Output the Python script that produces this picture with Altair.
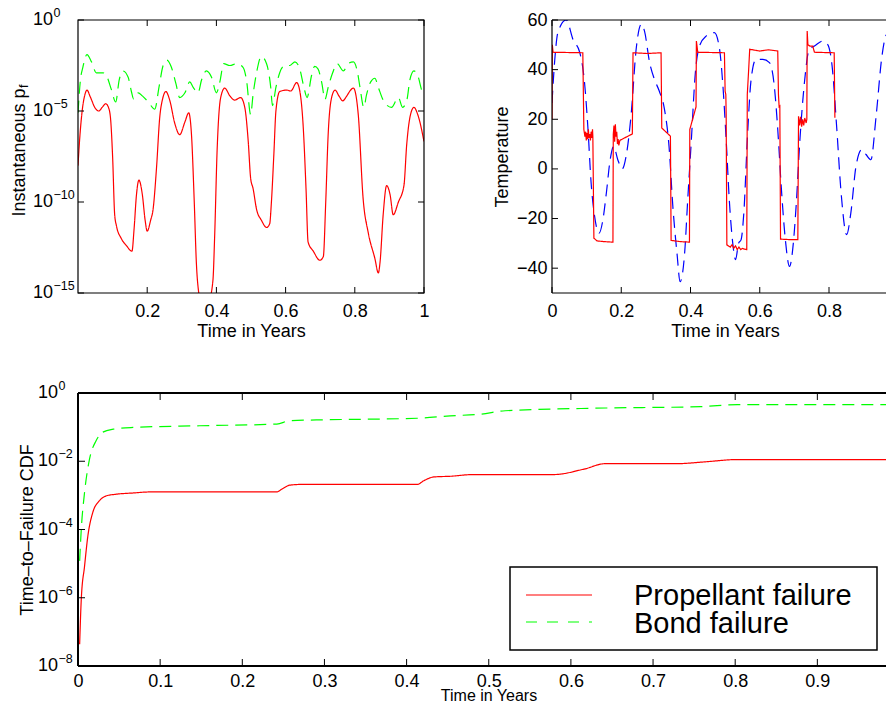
import altair as alt
import pandas as pd

# ---------------- data ----------------
# Top-left: instantaneous failure probability (log10 of value)
pf_prop_t = [0.000, 0.005, 0.012, 0.020, 0.026, 0.035, 0.050, 0.060, 0.070, 0.080, 0.088, 0.094,
             0.100, 0.106, 0.111, 0.125, 0.140, 0.156, 0.162, 0.169, 0.176, 0.186, 0.194, 0.200,
             0.210, 0.217, 0.227, 0.236, 0.245, 0.254, 0.265, 0.280, 0.294, 0.309, 0.320, 0.328,
             0.336, 0.342, 0.349, 0.355, 0.380, 0.390, 0.395, 0.402, 0.412, 0.424, 0.439, 0.453,
             0.470, 0.482, 0.492, 0.499, 0.506, 0.516, 0.530, 0.545, 0.554, 0.559, 0.566, 0.572,
             0.583, 0.603, 0.615, 0.632, 0.641, 0.651, 0.659, 0.665, 0.680, 0.699, 0.709, 0.716,
             0.723, 0.733, 0.743, 0.755, 0.765, 0.776, 0.786, 0.796, 0.810, 0.824, 0.839, 0.858,
             0.868, 0.873, 0.882, 0.892, 0.902, 0.911, 0.926, 0.942, 0.950, 0.961, 0.971, 0.982, 1.000]
pf_prop_log = [-8.0, -6.5, -5.0, -4.1, -3.85, -4.2, -4.85, -5.0, -4.8, -4.6, -4.8, -5.4,
               -7.5, -10.7, -11.3, -12.0, -12.4, -12.7, -11.5, -9.6, -8.8, -9.6, -11.0, -11.6,
               -11.0, -10.4, -8.1, -5.4, -4.3, -3.93, -4.4, -5.7, -6.3, -5.6, -5.1, -6.3,
               -10.0, -13.3, -15.0, -15.5, -15.3, -14.3, -11.85, -7.2, -4.3, -3.74, -4.17, -4.4,
               -4.26, -4.8, -6.67, -8.7, -9.26, -10.4, -11.0, -11.4, -11.2, -10.0, -7.4, -5.0,
               -3.93, -3.85, -3.9, -3.44, -3.9, -5.9, -9.26, -12.2, -12.7, -13.2, -13.0, -10.0,
               -6.3, -4.26, -3.85, -4.2, -4.44, -4.2, -3.9, -3.74, -5.2, -9.8, -11.7, -13.1,
               -13.9, -13.3, -10.7, -9.1, -9.6, -10.7, -10.0, -9.1, -6.85, -5.2, -4.8, -5.2, -6.67]
pf_bond_t = [0.000, 0.007, 0.014, 0.026, 0.039, 0.053, 0.072, 0.082, 0.096, 0.109, 0.119, 0.130,
             0.145, 0.154, 0.161, 0.174, 0.186, 0.203, 0.222, 0.234, 0.246, 0.257, 0.270, 0.283,
             0.294, 0.309, 0.323, 0.333, 0.347, 0.357, 0.371, 0.386, 0.400, 0.410, 0.421, 0.439,
             0.458, 0.477, 0.487, 0.499, 0.506, 0.516, 0.530, 0.545, 0.557, 0.562, 0.572, 0.583,
             0.598, 0.612, 0.627, 0.641, 0.653, 0.662, 0.675, 0.684, 0.694, 0.704, 0.714, 0.723,
             0.736, 0.749, 0.767, 0.781, 0.796, 0.807, 0.815, 0.826, 0.834, 0.846, 0.858, 0.868,
             0.882, 0.906, 0.926, 0.938, 0.951, 0.959, 0.971, 0.982, 0.994, 1.000]
pf_bond_log = [-5.1, -3.3, -2.6, -1.9, -2.3, -2.9, -2.9, -3.05, -3.8, -4.5, -3.3, -2.8,
               -3.15, -3.9, -4.35, -4.0, -4.17, -4.5, -4.9, -3.7, -2.5, -2.2, -2.6, -3.5,
               -4.26, -4.0, -3.4, -3.7, -4.0, -3.3, -2.8, -3.15, -4.0, -3.4, -2.4, -2.5,
               -2.4, -2.6, -3.3, -5.2, -4.1, -2.9, -2.0, -2.4, -3.7, -4.7, -3.7, -2.9,
               -2.5, -2.5, -2.3, -2.7, -3.7, -4.26, -3.05, -2.55, -2.7, -3.4, -4.35, -3.7,
               -2.9, -2.4, -2.8, -2.4, -2.3, -2.8, -3.7, -4.8, -4.1, -3.4, -3.2, -3.7,
               -4.4, -4.8, -4.26, -4.8, -4.35, -3.3, -2.8, -3.05, -3.9, -4.17]

# Top-right: temperature
temp_meas_t = [0.000, 0.001, 0.003, 0.089, 0.092, 0.095, 0.097, 0.099, 0.101, 0.103, 0.105, 0.107,
               0.109, 0.111, 0.113, 0.115, 0.117, 0.118, 0.121, 0.130, 0.150, 0.176, 0.177, 0.179,
               0.181, 0.183, 0.185, 0.187, 0.189, 0.191, 0.193, 0.196, 0.232, 0.234, 0.275, 0.315,
               0.317, 0.342, 0.344, 0.370, 0.397, 0.398, 0.416, 0.417, 0.421, 0.498, 0.500, 0.502,
               0.503, 0.505, 0.515, 0.520, 0.525, 0.530, 0.535, 0.540, 0.545, 0.550, 0.555, 0.5625,
               0.564, 0.568, 0.571, 0.600, 0.625, 0.652, 0.654, 0.656, 0.658, 0.660, 0.690, 0.710,
               0.712, 0.715, 0.718, 0.721, 0.724, 0.727, 0.730, 0.734, 0.736, 0.737, 0.739, 0.745,
               0.753, 0.758, 0.815, 0.817]
temp_meas = [20, 50, 47, 46.8, 15.9, 13, 15, 11.5, 14.5, 12, 16, 12.5,
             14, 11.5, 15, 12.5, 16, 13, -27.9, -29, -29.3, -29.5, 14, 17.5,
             11, 18, 13, 15, 10, 12, 9.5, 11.5, 14.1, 46.8, 46.5, 46.8,
             16.5, 13.2, -28.8, -29.3, -29.5, 15.9, 25, 51.5, 47, 46.8, 31.3, 30,
             22, -30.6, -31.5, -30.5, -32, -31, -32.5, -31.5, -32.5, -32, -32.3, -32.5,
             30, 40, 48.2, 47.5, 48, 47.5, 30, 25, 25.3, -28.3, -28.5, -28.5,
             21.2, 17.5, 21, 17, 20, 17.5, 20.5, 18.5, 20, 55.6, 50, 49.5,
             49.5, 47, 46.8, 20.6]
temp_fit_t = [0.000, 0.008, 0.017, 0.041, 0.061, 0.080, 0.094, 0.104, 0.113, 0.123, 0.136, 0.147,
              0.157, 0.168, 0.178, 0.190, 0.203, 0.214, 0.229, 0.243, 0.258, 0.267, 0.282, 0.296,
              0.310, 0.325, 0.338, 0.349, 0.361, 0.370, 0.383, 0.392, 0.402, 0.414, 0.426, 0.445,
              0.469, 0.484, 0.493, 0.503, 0.512, 0.522, 0.530, 0.539, 0.546, 0.554, 0.565, 0.575,
              0.589, 0.609, 0.628, 0.642, 0.652, 0.662, 0.674, 0.686, 0.697, 0.705, 0.716, 0.729,
              0.743, 0.758, 0.782, 0.796, 0.809, 0.822, 0.835, 0.851, 0.863, 0.878, 0.895, 0.907,
              0.921, 0.936, 0.953, 0.967, 0.983, 1.000]
temp_fit = [26.6, 44, 55, 60, 52, 47, 34.7, 15.9, -5.7, -19, -25.9, -20.5,
            -9.7, 3.7, 9.1, 3.7, 0, 5.1, 22.6, 48.2, 58.3, 55.6, 42.8, 36,
            31.3, 23.9, 9.1, -15.1, -34, -45.4, -34, -12.4, 10.5, 38.7, 49.5, 53.5,
            54.9, 48.2, 34.7, 11.8, -12.4, -29.9, -36.6, -29.9, -28.6, -17.8, 14.5, 36,
            44.1, 44.1, 42.8, 33.4, 15.9, -7, -28.6, -39.3, -29.9, -15.1, 11.8, 34.7,
            48.2, 49.5, 51.5, 50.2, 41.4, 17.2, -9.7, -26.5, -17.8, 1.1, 7.8, 5.8,
            3.7, 21.2, 45.5, 54.2, 49.5, 40]

# Bottom: time-to-failure CDF (log10 of value)
cdf_prop_t = [0.002, 0.004, 0.008, 0.012, 0.018, 0.026, 0.035, 0.045, 0.067, 0.087, 0.242, 0.248,
              0.258, 0.270, 0.413, 0.421, 0.433, 0.453, 0.481, 0.579, 0.616, 0.642, 0.730, 0.762,
              0.803, 1.000]
cdf_prop_log = [-7.36, -6.04, -5.07, -4.19, -3.5, -3.16, -3.01, -2.97, -2.93, -2.9, -2.9, -2.82,
                -2.7, -2.68, -2.68, -2.57, -2.46, -2.44, -2.39, -2.39, -2.23, -2.07, -2.07, -2.02,
                -1.95, -1.95]
cdf_bond_t = [0.002, 0.004, 0.008, 0.014, 0.022, 0.030, 0.043, 0.067, 0.148, 0.242, 0.258, 0.290,
              0.413, 0.453, 0.490, 0.520, 0.643, 0.758, 0.803, 1.000]
cdf_bond_log = [-4.92, -3.99, -2.91, -1.94, -1.4, -1.15, -1.06, -1.01, -0.96, -0.91, -0.81, -0.79,
                -0.74, -0.67, -0.62, -0.52, -0.44, -0.4, -0.34, -0.34]

series_all = ["Propellant failure", "Bond failure", "Measured", "Model"]

# axis ticks / labels
tl_xticks = [0.2, 0.4, 0.6, 0.8, 1.0]
tl_yticks = [1e0, 1e-5, 1e-10, 1e-15]
tl_yexp = ["0", "\u22125", "\u221210", "\u221215"]
tr_xticks = [0, 0.2, 0.4, 0.6, 0.8]
tr_yticks = [-40, -20, 0, 20, 40, 60]
b_xticks = [0, 0.1, 0.2, 0.3, 0.4, 0.5, 0.6, 0.7, 0.8, 0.9]
b_yticks = [1e0, 1e-2, 1e-4, 1e-6, 1e-8]
b_yexp = ["0", "\u22122", "\u22124", "\u22126", "\u22128"]

# ---------------- styling ----------------
FONT = "Liberation Sans"
RED, GREEN, BLUE = "#ff0000", "#00ff00", "#0000ff"
FS = 18
W1, H1 = 346, 273          # top-left panel
W2 = 340                   # top-right panel (right part cut off like the reference)
W3, H3 = 814, 273          # bottom panel (right part cut off)
PX_PER_UNIT_TOP = 346.25
PX_PER_UNIT_BOT = 821.5
ONE = pd.DataFrame({"k": [0]})

color_enc = alt.Color("s:N", scale=alt.Scale(domain=series_all, range=[RED, GREEN, RED, BLUE]),
                      legend=None)
dash_enc = alt.StrokeDash("s:N", scale=alt.Scale(domain=series_all,
                                                 range=[[1, 0], [12, 7], [1, 0], [12, 7]]),
                          legend=None)


def series_df(pairs):
    rows = []
    for name, ts, vs, logv in pairs:
        for i, (t, v) in enumerate(zip(ts, vs)):
            rows.append({"t": t, "v": 10 ** v if logv else v, "s": name, "i": i})
    return pd.DataFrame(rows)


def tick_layers(xvals, yvals, w, h, L, xs, ys, xax, yax, right_len):
    dx = pd.DataFrame({"v": xvals})
    dy = pd.DataFrame({"v": yvals})
    out = []
    for a, b in [(h, h - L), (0, L)]:
        out.append(alt.Chart(dx).mark_rule(color="black", strokeWidth=1).encode(
            x=alt.X("v:Q", scale=xs, axis=xax), y=alt.value(a), y2=alt.value(b)))
    segs = [(0, L)]
    if right_len > 0:
        segs.append((w - right_len, w))
    for a, b in segs:
        out.append(alt.Chart(dy).mark_rule(color="black", strokeWidth=1).encode(
            y=alt.Y("v:Q", scale=ys, axis=yax), x=alt.value(a), x2=alt.value(b)))
    return out


def hline(x0, x1, y, sw):
    return alt.Chart(ONE).mark_rule(color="black", strokeWidth=sw).encode(
        x=alt.value(x0), x2=alt.value(x1), y=alt.value(y), y2=alt.value(y))


def vline(x, y0, y1, sw):
    return alt.Chart(ONE).mark_rule(color="black", strokeWidth=sw).encode(
        x=alt.value(x), x2=alt.value(x), y=alt.value(y0), y2=alt.value(y1))


def log_labels(vals, exps, ys, yax, xr):
    df = pd.DataFrame({"v": vals, "e": exps})
    base = alt.Chart(df).mark_text(align="right", baseline="middle", fontSize=FS, font=FONT,
                                   color="black").encode(
        y=alt.Y("v:Q", scale=ys, axis=yax), x=alt.value(xr), text=alt.value("10"))
    ex = alt.Chart(df).mark_text(align="left", baseline="middle", fontSize=12.5, font=FONT,
                                 color="black", dy=-7).encode(
        y=alt.Y("v:Q", scale=ys, axis=yax), x=alt.value(xr + 0.5), text="e:N")
    return [base, ex]


def lines(df, xs, ys, xax, yax, interp):
    return alt.Chart(df).mark_line(clip=True, strokeWidth=1.2, interpolate=interp).encode(
        x=alt.X("t:Q", scale=xs, axis=xax), y=alt.Y("v:Q", scale=ys, axis=yax),
        color=color_enc, strokeDash=dash_enc, order="i:Q")


# ---------------- top-left ----------------
xs1 = alt.Scale(domain=[0, 1], nice=False, zero=False)
ys1 = alt.Scale(type="log", domain=[1e-15, 1], nice=False)
xax1 = alt.Axis(values=tl_xticks, format="~g", labelPadding=9, title="Time in Years",
                titleY=43, titleBaseline="alphabetic")
yax1 = alt.Axis(labels=False, title="Instantaneous p", titleX=-54, titleY=132,
                titleBaseline="alphabetic", titleAlign="center", titleAngle=270)
df1 = series_df([(series_all[0], pf_prop_t, pf_prop_log, True),
                 (series_all[1], pf_bond_t, pf_bond_log, True)])
tl_lines = lines(df1, xs1, ys1, xax1, yax1, "monotone")
tl_sub = alt.Chart(ONE).mark_text(align="left", baseline="alphabetic", angle=270, fontSize=12.5,
                                  font=FONT, color="black").encode(
    x=alt.value(-50), y=alt.value(68), text=alt.value("f"))
tl_frame = alt.Chart(ONE).mark_rect(fill="transparent", stroke="black", strokeWidth=1.2).encode(
    x=alt.value(0), x2=alt.value(W1), y=alt.value(0), y2=alt.value(H1))
tl = alt.layer(tl_lines, *tick_layers(tl_xticks, tl_yticks, W1, H1, 6, xs1, ys1, xax1, yax1, 6),
               tl_frame, *log_labels(tl_yticks, tl_yexp, ys1, yax1, -25), tl_sub
               ).properties(width=W1, height=H1)

# ---------------- top-right ----------------
xs2 = alt.Scale(domain=[0, W2 / PX_PER_UNIT_TOP], nice=False, zero=False)
ys2 = alt.Scale(domain=[-50, 60], nice=False, zero=False)
xax2 = alt.Axis(values=tr_xticks, format="~g", labelPadding=9, title="Time in Years",
                titleY=43, titleX=173, titleBaseline="alphabetic")
yax2 = alt.Axis(values=tr_yticks, labelPadding=5, title="Temperature", titleX=-44.5,
                titleBaseline="alphabetic")
df2m = series_df([(series_all[2], temp_meas_t, temp_meas, False)])
df2f = series_df([(series_all[3], temp_fit_t, temp_fit, False)])
tr = alt.layer(lines(df2f, xs2, ys2, xax2, yax2, "monotone"),
               lines(df2m, xs2, ys2, xax2, yax2, "linear"),
               *tick_layers(tr_xticks, tr_yticks, W2, H1, 6, xs2, ys2, xax2, yax2, 0),
               hline(0, W2, 0, 1.2), hline(0, W2, H1, 1.2), vline(0, 0, H1, 1.2)
               ).properties(width=W2, height=H1)

top_row = alt.hconcat(tl, tr, spacing=128, bounds="flush")

# ---------------- bottom ----------------
xs3 = alt.Scale(domain=[0, W3 / PX_PER_UNIT_BOT], nice=False, zero=False)
ys3 = alt.Scale(type="log", domain=[1e-8, 1], nice=False)
xax3 = alt.Axis(values=b_xticks, format="~g", labelPadding=6, title="Time in Years",
                titleY=34.5, titleX=410.5, titleBaseline="alphabetic", titleFontSize=16)
yax3 = alt.Axis(labels=False, title="Time\u2013to\u2013Failure CDF", titleX=-46,
                titleBaseline="alphabetic")
df3 = series_df([(series_all[0], cdf_prop_t, cdf_prop_log, True),
                 (series_all[1], cdf_bond_t, cdf_bond_log, True)])
b_lines = lines(df3, xs3, ys3, xax3, yax3, "monotone")

leg_box = alt.Chart(ONE).mark_rect(fill="white", stroke="black", strokeWidth=1.5).encode(
    x=alt.value(432), x2=alt.value(799), y=alt.value(174), y2=alt.value(257))
leg_red = alt.Chart(ONE).mark_rule(color=RED, strokeWidth=1.2).encode(
    x=alt.value(448), x2=alt.value(514), y=alt.value(202), y2=alt.value(202))
leg_green = alt.Chart(ONE).mark_rule(color=GREEN, strokeWidth=1.2, strokeDash=[11, 10]).encode(
    x=alt.value(448), x2=alt.value(514), y=alt.value(229), y2=alt.value(229))
leg_t1 = alt.Chart(ONE).mark_text(align="left", baseline="alphabetic", fontSize=29, font=FONT,
                                  color="black").encode(
    x=alt.value(556), y=alt.value(212), text=alt.value(series_all[0]))
leg_t2 = alt.Chart(ONE).mark_text(align="left", baseline="alphabetic", fontSize=29, font=FONT,
                                  color="black").encode(
    x=alt.value(556), y=alt.value(240), text=alt.value(series_all[1]))

bot = alt.layer(b_lines, *tick_layers(b_xticks, b_yticks, W3, H3, 7, xs3, ys3, xax3, yax3, 3),
                hline(0, W3, 0, 2), hline(0, W3, H3, 2), vline(0, 0, H3, 2),
                *log_labels(b_yticks, b_yexp, ys3, yax3, -20),
                leg_box, leg_red, leg_green, leg_t1, leg_t2
                ).properties(width=W3, height=H3)

# Fixed-size canvas: plot areas start at (70, 12) inside the 878 x 695 drawing
chart = alt.vconcat(top_row, bot, spacing=38).properties(
    autosize=alt.AutoSizeParams(type="none"),
    padding={"left": 70, "top": 12, "right": 808, "bottom": 683}
).configure(font=FONT, background="white").configure_axis(
    labelFont=FONT, titleFont=FONT, labelFontSize=FS, titleFontSize=FS, labelColor="black",
    titleColor="black", titleFontWeight="normal", grid=False, domain=False, ticks=False,
    tickSize=0, labelFlush=False, labelOverlap=False
).configure_view(stroke="transparent")

chart.save("out.html", embed_options={"renderer": "svg", "actions": False})
